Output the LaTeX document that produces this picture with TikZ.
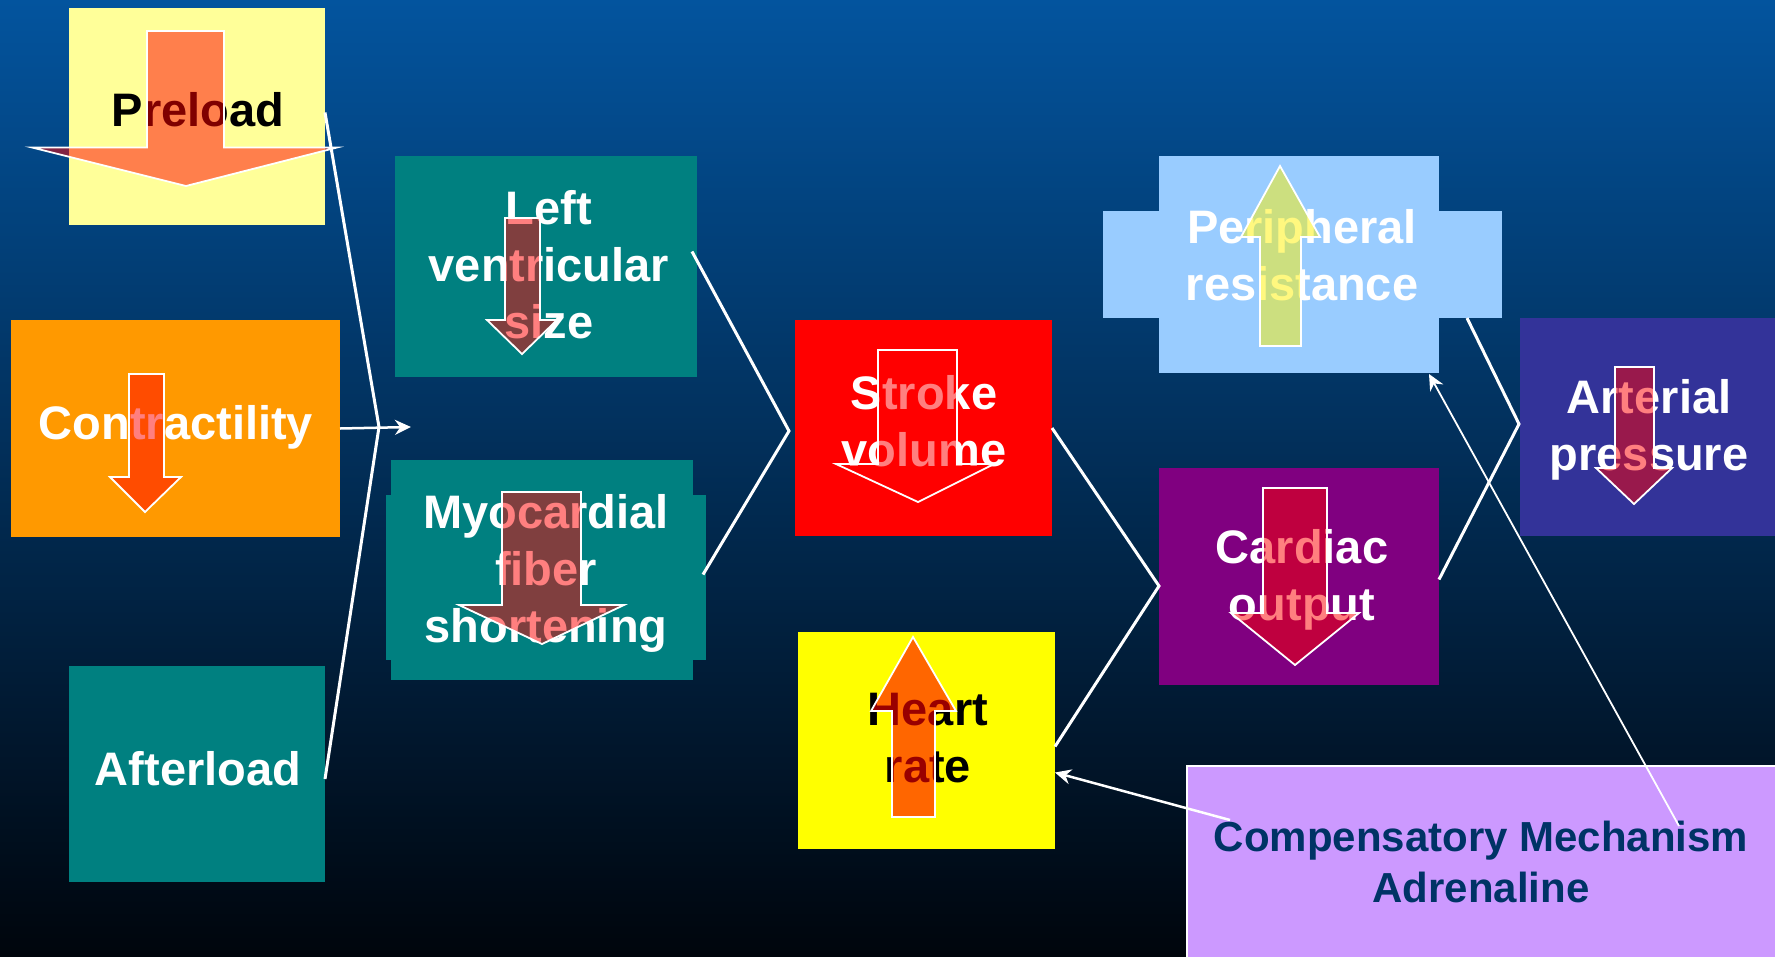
\documentclass[tikz,border=0pt]{standalone}
\usepackage{fontspec}
\setmainfont{Liberation Sans}
\usetikzlibrary{arrows.meta}
\definecolor{bgtop}{RGB}{3,84,158}
\definecolor{bgmid}{RGB}{0,50,98}
\definecolor{bgbot}{RGB}{0,5,12}
\definecolor{paleyellow}{RGB}{255,255,153}
\definecolor{orangebox}{RGB}{255,153,0}
\definecolor{tealbox}{RGB}{0,128,128}
\definecolor{redbox}{RGB}{255,0,0}
\definecolor{yellowbox}{RGB}{255,255,0}
\definecolor{purplebox}{RGB}{128,0,128}
\definecolor{bluebox}{RGB}{153,204,255}
\definecolor{indigobox}{RGB}{51,51,153}
\definecolor{lilacbox}{RGB}{204,153,255}
\definecolor{navytext}{RGB}{0,51,102}
\newcommand\blockarr[9][]{%
  \draw[blk, #1] (#2,#4) -- (#3,#4) -- (#3,#5) -- (#7,#5) -- (#8,#9) -- (#6,#5) -- (#2,#5) -- cycle;}
\begin{document}
\begin{tikzpicture}[x=1pt,y=-1pt,
  box/.style={rectangle, inner sep=0pt, outer sep=0pt, draw=none},
  lbl/.style={font=\bfseries\fontsize{47}{57}\selectfont, align=center, inner sep=0pt, text=white},
  blk/.style={fill=red, fill opacity=0.5, draw=white, draw opacity=1, line width=1.8pt, line join=miter},
  conn/.style={draw=white, line width=3pt, line join=miter},
  ptr/.style={draw=white, -{Stealth[length=16pt,width=15pt]}}
]
\useasboundingbox (0,0) rectangle (1775,956);
\clip (0,0) rectangle (1775,956);
\shade[top color=bgtop, middle color=bgmid, bottom color=bgbot] (0,0) rectangle (1775,956);

% boxes
\node[box, fill=paleyellow, minimum width=256, minimum height=217] (pre) at (197,116.5) {};
\node[box, fill=orangebox, minimum width=329, minimum height=217] (con) at (175.5,428.5) {};
\node[box, fill=tealbox, minimum width=256, minimum height=216] (aft) at (197,774) {};
\node[box, fill=tealbox, minimum width=302, minimum height=221] (lv) at (546,266.5) {};
\node[box, fill=tealbox, minimum width=302, minimum height=220] (myo) at (541.5,569.5) {};
\node[box, fill=tealbox, minimum width=320, minimum height=165] (myoW) at (546,577.5) {};
\node[box, fill=redbox, minimum width=257, minimum height=216] (sv) at (923.5,428) {};
\node[box, fill=yellowbox, minimum width=257, minimum height=217] (hr) at (926.5,740.5) {};
\node[box, fill=purplebox, minimum width=280, minimum height=217] (co) at (1299,576.5) {};
\node[box, fill=bluebox, minimum width=280, minimum height=217] (pr) at (1299,264.5) {};
\node[box, fill=bluebox, minimum width=399, minimum height=107] (prW) at (1302.5,264.5) {};
\node[box, fill=indigobox, minimum width=255, minimum height=218] (ap) at (1647.5,427) {};
\node[box, fill=lilacbox, draw=white, line width=1.5pt, anchor=north west, minimum width=620, minimum height=220] (comp) at (1187,766) {};

% texts
\node[lbl, text=black] (preT) at (198,110) {Preload};
\node[lbl] (conT) at (176,427) {Contractility};
\node[lbl] (aftT) at (198,769) {Afterload};
\node[lbl] (lvT) at (549,265) {Left\\ventricular\\size};
\node[lbl] (myoT) at (546,573) {Myocardial\\fiber\\shortening};
\node[lbl] (svT) at (924,421) {Stroke\\volume};
\node[lbl, text=black] (hrT) at (928,738) {Heart\\rate};
\node[lbl] (coT) at (1302,580) {Cardiac\\output};
\node[lbl] (prT) at (1302,255) {Peripheral\\resistance};
\node[lbl] (apT) at (1649,430) {Arterial\\pressure};
\node[lbl, text=navytext, font=\bfseries\fontsize{42}{51}\selectfont] (compT) at (1481,862) {Compensatory Mechanism\\Adrenaline};

% block arrows (semi-transparent, drawn over text)
\blockarr{147}{224}{31}{147.5}{32}{337}{186}{186}
\blockarr{129}{164}{374}{477}{110}{181}{145}{512}
\blockarr{505}{540}{218}{320}{487}{557}{522}{354}
\blockarr{502}{581}{492}{605}{459}{624}{542}{644}
\blockarr{878}{957}{350}{464}{836}{994}{918}{502}
\blockarr[fill opacity=0.6]{892}{935}{817}{711}{871}{956}{913}{637}
\blockarr{1263}{1327}{488}{613}{1231}{1359}{1295}{665}
\blockarr[fill=yellow]{1260}{1301}{346}{237}{1241}{1320}{1280}{166}
\blockarr{1615}{1654}{367}{468}{1596}{1672}{1634}{504}

% connectors
\coordinate (j1) at (379,427);
\coordinate (j2) at (789,431);
\coordinate (j3) at (1159,586);
\coordinate (j4) at (1519,424);
\coordinate (c1) at (411,427);
\coordinate (cs1) at (1230,820);
\coordinate (cs2) at (1679,826);

\draw[conn] ([shift={(0,-4)}]pre.east) -- (j1) -- ([shift={(0,5)}]aft.east);
\draw[ptr, line width=2.5pt] (con.east) -- (c1);
\draw[conn] ([shift={(-5,-15)}]lv.east) -- (j2) -- ([shift={(-3,-3)}]myoW.east);
\draw[conn] (sv.east) -- (j3) -- ([shift={(0,6)}]hr.east);
\draw[conn] ([shift={(-35,0)}]prW.south east) -- (j4) -- ([shift={(0,3)}]co.east);
\draw[ptr, line width=2.5pt] (cs1) -- ([shift={(0,32)}]hr.east);
\draw[ptr, line width=1.8pt] (cs2) -- ([shift={(-10,1)}]pr.south east);
\end{tikzpicture}
\end{document}
